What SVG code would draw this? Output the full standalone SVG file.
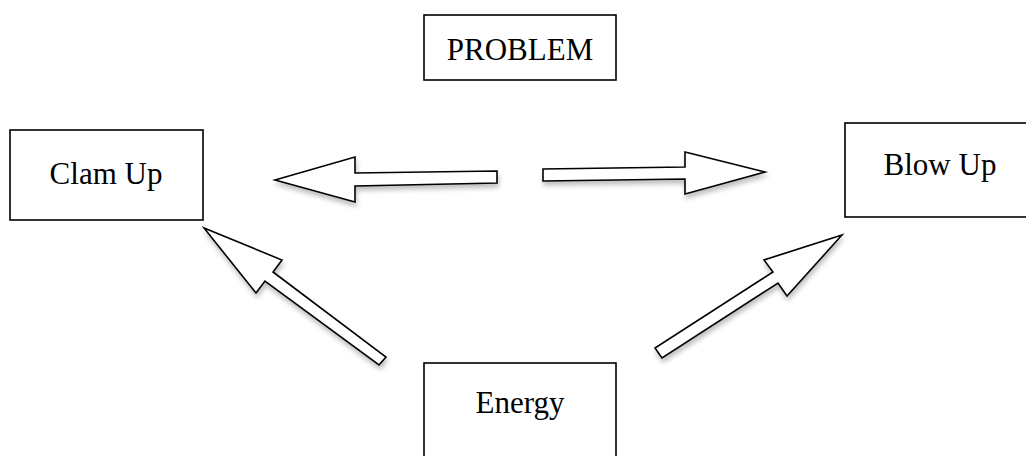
<svg xmlns="http://www.w3.org/2000/svg" width="1026" height="456" viewBox="0 0 1026 456">
<defs>
<style>
.box{fill:#fff;stroke:#000;stroke-width:1.6}
.lbl{font-family:"Liberation Serif","Times New Roman",serif;font-size:31px;fill:#000;text-anchor:middle}
.arr{fill:#fff;stroke:#000;stroke-width:1.6;stroke-linejoin:miter;filter:url(#sh)}
</style>
<filter id="sh" x="-20%" y="-30%" width="140%" height="160%">
<feGaussianBlur in="SourceAlpha" stdDeviation="2.5"/>
<feOffset dx="1" dy="4" result="b"/>
<feComponentTransfer><feFuncA type="linear" slope="0.25"/></feComponentTransfer>
<feMerge><feMergeNode/><feMergeNode in="SourceGraphic"/></feMerge>
</filter>
</defs>
<rect width="1026" height="456" fill="#fff"/>
<g id="problem">
<rect class="box" x="424" y="15" width="192" height="65"/>
<text class="lbl" x="520" y="60">PROBLEM</text>
</g>
<g id="clamup">
<rect class="box" x="10" y="130" width="193" height="90"/>
<text class="lbl" x="106" y="184">Clam Up</text>
</g>
<g id="blowup">
<rect class="box" x="845" y="123" width="190" height="94"/>
<text class="lbl" x="940" y="175">Blow Up</text>
</g>
<g id="energy">
<rect class="box" x="424" y="363" width="192" height="100"/>
<text class="lbl" x="520" y="413">Energy</text>
</g>
<g id="connectors">
<polygon class="arr" points="275,180 355,157 355,173 497,171 497,183 355,186 355,202"/>
<polygon class="arr" points="543,169 685,167 685,152 765,172 685,194 685,179 543,181"/>
<polygon class="arr" points="204,228 282,260 273,272 386,357 379,365 265,281 256,293"/>
<polygon class="arr" points="842,235 764,260 773,272 655,348 662,358 778,283 787,296"/>
</g>
</svg>
